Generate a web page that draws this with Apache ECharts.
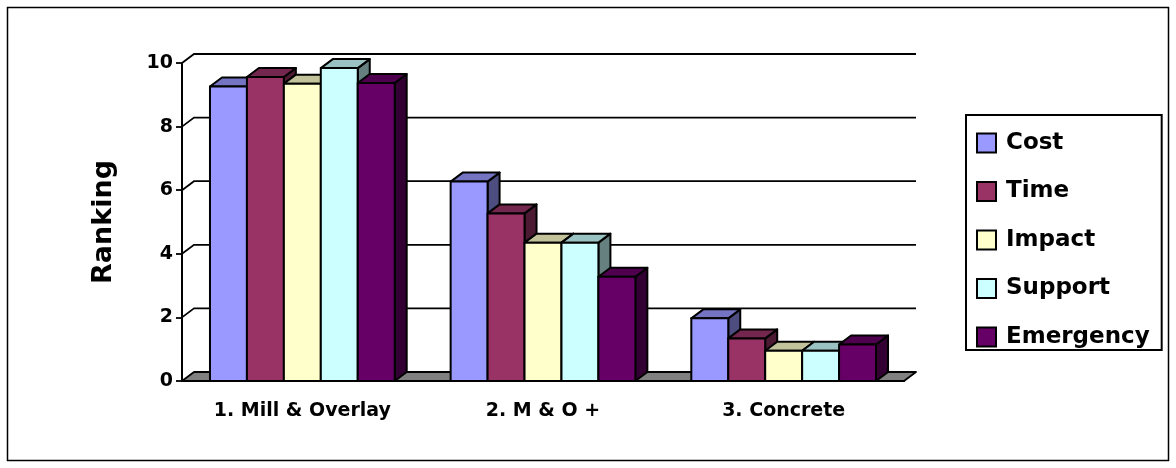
<!doctype html>
<html>
<head>
<meta charset="UTF-8">
<title>Ranking</title>
<script src="https://cdn.jsdelivr.net/npm/echarts@6/dist/echarts.min.js"></script>
<style>
  html, body { margin: 0; padding: 0; background: #fff; }
  #chart { width: 1176px; height: 468px; }
</style>
</head>
<body>
<div id="chart"></div>
<script>
var categories = ['1. Mill & Overlay', '2. M & O +', '3. Concrete'];
var seriesNames = ['Cost', 'Time', 'Impact', 'Support', 'Emergency'];
var cost = [9.26, 6.27, 1.97];
var time = [9.56, 5.27, 1.34];
var impact = [9.35, 4.35, 0.95];
var support = [9.84, 4.35, 0.95];
var emergency = [9.37, 3.28, 1.15];
var yTicks = [0, 2, 4, 6, 8, 10];

var colors = ['#9999FF', '#993366', '#FFFFCC', '#CCFFFF', '#660066'];
var values = [cost, time, impact, support, emergency];

var DX = 12, DY = -9;   // depth of the 3d look
var BAR = 0.1535;       // bar width as part of a category band
var FONT = 'DejaVu Sans';

function shade(hex, f) {
  var n = parseInt(hex.slice(1), 16);
  var r = Math.round(((n >> 16) & 255) * f),
      g = Math.round(((n >> 8) & 255) * f),
      b = Math.round((n & 255) * f);
  return 'rgb(' + r + ',' + g + ',' + b + ')';
}

function barRender(si) {
  return function (params, api) {
    var ci = api.value(0), v = api.value(1);
    var band = api.size([1, 0])[0];
    var bw = band * BAR;
    var top = api.coord([ci, v]);
    var base = api.coord([ci, 0]);
    var x0 = top[0] - 2.5 * bw + si * bw;
    var y0 = top[1], y1 = base[1];
    var line = { stroke: '#000', lineWidth: 2, lineJoin: 'round' };
    return {
      type: 'group',
      children: [{
        type: 'polygon',
        shape: { points: [[x0 + bw, y0], [x0 + bw + DX, y0 + DY], [x0 + bw + DX, y1 + DY], [x0 + bw, y1]] },
        style: Object.assign({ fill: shade(colors[si], 0.5) }, line)
      }, {
        type: 'polygon',
        shape: { points: [[x0, y0], [x0 + DX, y0 + DY], [x0 + bw + DX, y0 + DY], [x0 + bw, y0]] },
        style: Object.assign({ fill: shade(colors[si], 0.76) }, line)
      }, {
        type: 'rect',
        shape: { x: x0, y: y0, width: bw, height: y1 - y0 },
        style: Object.assign({ fill: colors[si] }, line)
      }]
    };
  };
}

function wallRender(params, api) {
  var cs = params.coordSys;
  var v = api.value(1);
  var y = api.coord([0, v])[1];
  var xa = cs.x, xb = cs.x + cs.width;
  if (v === 0) {
    return {
      type: 'polygon',
      shape: { points: [[xa, y], [xa + DX, y + DY], [xb + DX, y + DY], [xb, y]] },
      style: { fill: '#808080', stroke: '#000', lineWidth: 1.8, lineJoin: 'round' }
    };
  }
  return {
    type: 'polyline',
    shape: { points: [[xa, y], [xa + DX, y + DY], [xb + DX, y + DY]] },
    style: { fill: null, stroke: '#000', lineWidth: 1.8 }
  };
}

var series = [{
  type: 'custom',
  silent: true,
  z: 1,
  renderItem: wallRender,
  encode: { x: 0, y: 1 },
  data: yTicks.map(function (v) { return [0, v]; })
}];
for (var i = 0; i < seriesNames.length; i++) {
  series.push({
    name: seriesNames[i],
    type: 'custom',
    z: 2,
    renderItem: barRender(i),
    itemStyle: { color: colors[i], borderColor: '#000', borderWidth: 2 },
    encode: { x: 0, y: 1 },
    data: values[i].map(function (v, k) { return [k, v]; })
  });
}

var chart = echarts.init(document.getElementById('chart'));
chart.setOption({
  animation: false,
  graphic: [{
    type: 'rect',
    shape: { x: 7.5, y: 7.5, width: 1161, height: 453 },
    style: { fill: null, stroke: '#000', lineWidth: 1.5 },
    silent: true
  }],
  grid: { left: 182, right: 272, top: 63, bottom: 87 },
  legend: {
    data: seriesNames,
    orient: 'vertical',
    left: 966,
    top: 115,
    padding: [16, 12, 1, 10],
    itemWidth: 19,
    itemHeight: 19,
    itemGap: 24.5,
    borderColor: '#000',
    borderWidth: 2,
    icon: 'rect',
    itemStyle: { borderColor: '#000', borderWidth: 2 },
    textStyle: { fontFamily: FONT, fontWeight: 'bold', fontSize: 23, lineHeight: 24, color: '#000', padding: [0, 0, 0, 5] }
  },
  xAxis: {
    type: 'category',
    data: categories,
    axisLine: { lineStyle: { color: '#000', width: 2 } },
    axisTick: { length: 6, lineStyle: { color: '#000', width: 1.8 } },
    axisLabel: { margin: 21, color: '#000', fontFamily: FONT, fontWeight: 'bold', fontSize: 19 }
  },
  yAxis: {
    type: 'value',
    min: 0,
    max: 10,
    interval: 2,
    name: 'Ranking',
    nameLocation: 'middle',
    nameRotate: 90,
    nameGap: 65,
    nameTextStyle: { color: '#000', fontFamily: FONT, fontWeight: 'bold', fontSize: 27 },
    axisLine: { show: true, lineStyle: { color: '#000', width: 2 } },
    axisTick: { show: true, length: 6, lineStyle: { color: '#000', width: 1.8 } },
    axisLabel: { margin: 9, color: '#000', fontFamily: FONT, fontWeight: 'bold', fontSize: 19 },
    splitLine: { show: false }
  },
  series: series
});
</script>
</body>
</html>
